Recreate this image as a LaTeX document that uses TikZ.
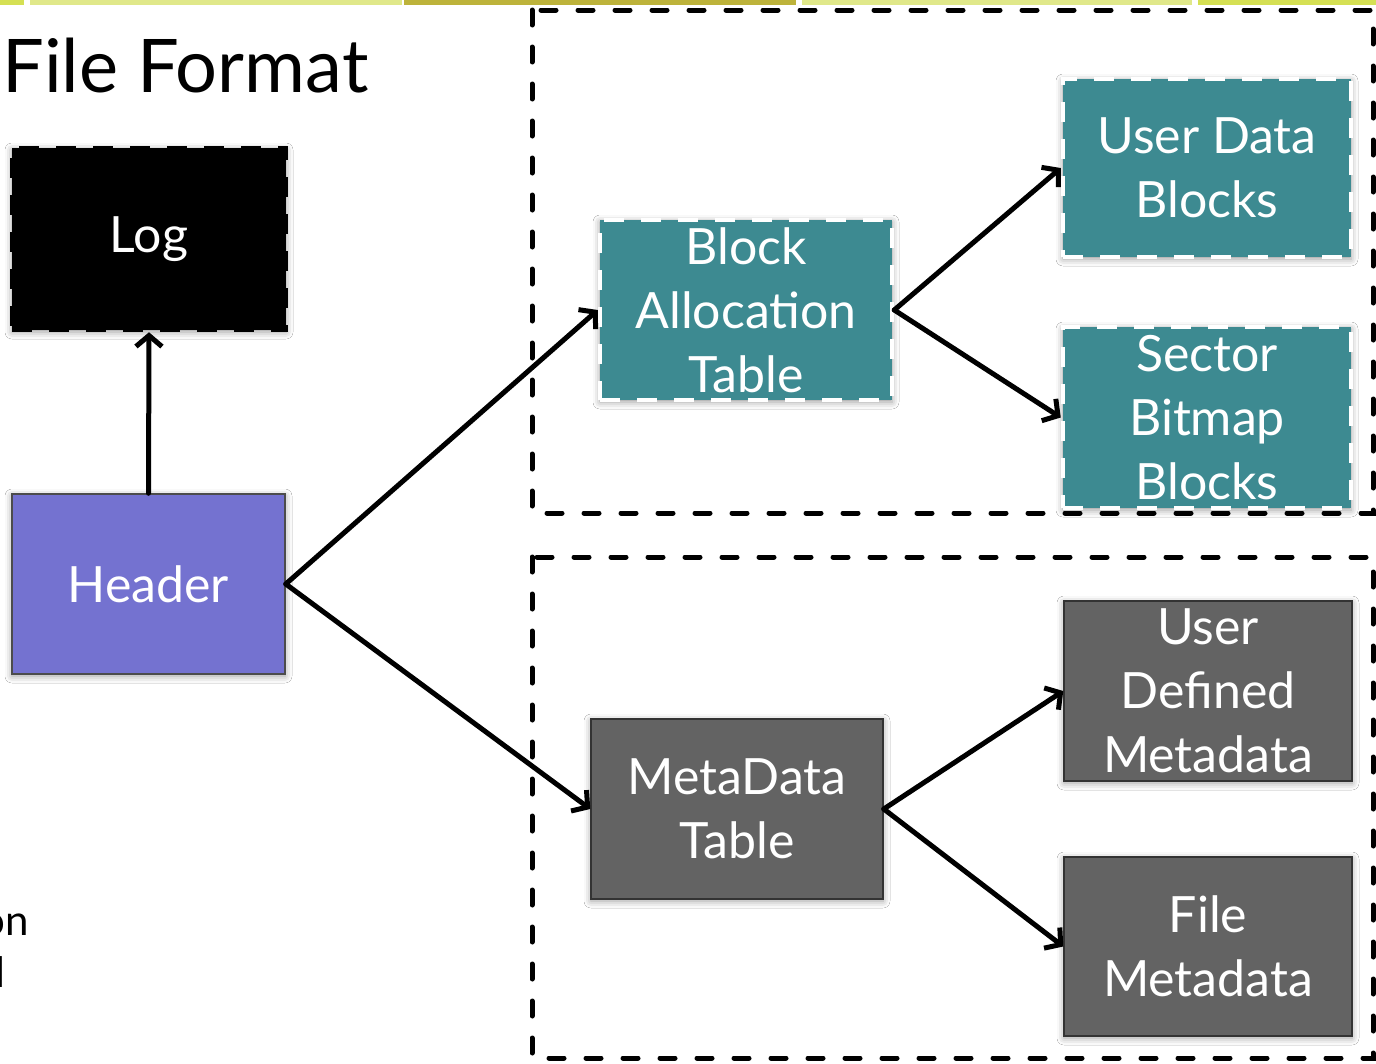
\documentclass[tikz,border=0pt]{standalone}
\usepackage{fontspec}
\setmainfont{Lato}
\usetikzlibrary{arrows.meta,shadows.blur}

\definecolor{tealbox}{HTML}{3D8A91}
\definecolor{headerblue}{HTML}{7472D0}
\definecolor{metagray}{HTML}{636363}
\definecolor{barlight}{HTML}{E0E88A}
\definecolor{barolive}{HTML}{BDB33B}
\definecolor{barlime}{HTML}{D5E054}

\begin{document}
\begin{tikzpicture}[x=1pt,y=-1pt,
    box/.style={rectangle, inner sep=0pt, minimum width=288pt, minimum height=180pt,
      text=white, align=center, font=\fontsize{50}{64}\selectfont,
      blur shadow={shadow xshift=0pt, shadow yshift=-2pt, shadow blur radius=7pt, shadow opacity=40}},
    tealbox/.style={box, fill=tealbox, draw=white, line width=4.5pt, dash pattern=on 20pt off 17pt},
    graybox/.style={box, fill=metagray, draw=black!80, line width=1.5pt},
    group/.style={draw=black, line width=5pt, line cap=round, dash pattern=on 15pt off 22pt},
    link/.style={line width=5pt, line cap=round, -{Straight Barb[length=11pt,width=26pt]}}]

    \useasboundingbox (0,0) rectangle (1376,1063);
    \fill[white] (0,0) rectangle (1376,1063);

	% Top bars
    \fill[barlime] (0,0) rectangle (24,5);
    \fill[barlight] (30,0) rectangle (402,5);
    \fill[barolive] (404,0) rectangle (796,5);
    \fill[barlight] (802,0) rectangle (1192,5);
    \fill[barlime] (1198,0) rectangle (1376,5);

	% Title and cut-off text
    \node (title) [anchor=base west, inner sep=0pt, font=\fontsize{74}{80}\selectfont] at (2,92) {File Format};
    \node (cut1) [anchor=base east, inner sep=0pt, font=\fontsize{42}{52}\selectfont] at (29,935) {on};
    \node (cut2) [anchor=base east, inner sep=0pt, font=\fontsize{42}{52}\selectfont] at (6,987) {l};

	% Groups
    \draw[group] (532,10) rectangle (1373,513);
    \draw[group] (532,557) rectangle (1373,1058);

	% Boxes
    \node (log) [box, minimum width=274pt, minimum height=182pt, fill=black, draw=black, line width=4.5pt, dash pattern=on 20pt off 17pt] at (149,239) {Log};
    \node (header) [box, minimum width=273pt, fill=headerblue, draw=black!70, line width=1.5pt] at (148.5,584) {Header};
    \node (bat) [tealbox, minimum width=292pt] at (746,310) {Block\\Allocation\\Table};
    \node (udb) [tealbox, minimum height=178pt] at (1207,168) {User Data\\Blocks};
    \node (sbb) [tealbox, minimum height=181pt] at (1207,417.5) {Sector\\Bitmap\\Blocks};
    \node (mdt) [graybox, minimum width=292pt] at (737,809) {MetaData\\Table};
    \node (udm) [graybox] at (1208,691) {User\\Defined\\Metadata};
    \node (fm) [graybox, minimum height=179pt] at (1208,946.5) {File\\Metadata};

	% Links
    \draw[link] (header.north) -- (log.south);
    \draw[link] (header.east) -- (bat.west);
    \draw[link] (header.east) -- (mdt.west);
    \draw[link] (bat.east) -- (udb.west);
    \draw[link] (bat.east) -- (sbb.west);
    \draw[link] (mdt.east) -- (udm.west);
    \draw[link] (mdt.east) -- (fm.west);

\end{tikzpicture}
\end{document}
